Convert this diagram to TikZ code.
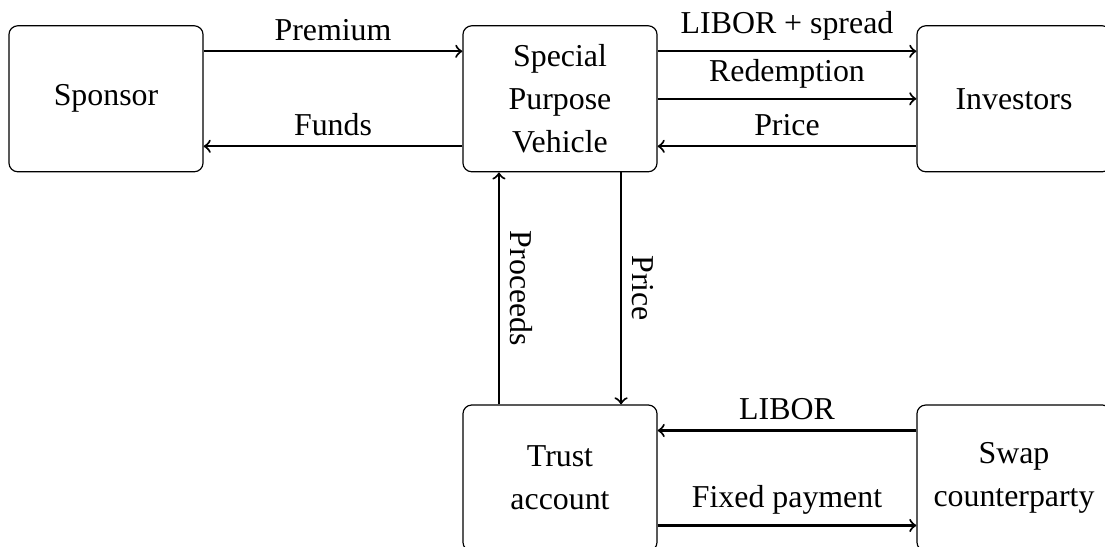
\documentclass[tikz,border=0pt]{standalone}
\IfFileExists{pplr8t.tfm}{\usepackage[T1]{fontenc}\renewcommand\rmdefault{ppl}\newcommand\fsz{10}}{\usepackage{fontspec}\setmainfont{Liberation Serif}\newcommand\fsz{10.8}}
\begin{document}
\begin{tikzpicture}[x=0.339pt,y=-0.339pt,
  box/.style={draw, line width=0.4pt, rounded corners=3pt, minimum width=65.8pt,
    minimum height=49.5pt, align=center, inner sep=0pt,
    font=\fontsize{\fsz}{14.6}\selectfont},
  flow/.style={->, line width=0.7pt},
  lbl/.style={font=\fontsize{\fsz}{12}\selectfont}]
\clip (0,0) rectangle (1105,547);
\node[box] (sponsor)   at (106,98.8) {Sponsor};
\node[box] (spv)       at (560,98.8) {Special\\Purpose\\Vehicle};
\node[box] (investors) at (1014,98.8) {Investors};
\node[box] (trust)     at (560,478) {Trust\\account};
\node[box] (swap)      at (1014,478) {Swap\\counterparty};

\draw[flow] ([yshift=16.1pt]sponsor.east) -- node[lbl,above]{Premium} ([yshift=16.1pt]spv.west);
\draw[flow] ([yshift=-16.1pt]spv.west) -- node[lbl,above]{Funds} ([yshift=-16.1pt]sponsor.east);
\draw[flow] ([yshift=16.1pt]spv.east) -- node[lbl,above]{LIBOR + spread} ([yshift=16.1pt]investors.west);
\draw[flow] (spv.east) -- node[lbl,above]{Redemption} (investors.west);
\draw[flow] ([yshift=-16.1pt]investors.west) -- node[lbl,above]{Price} ([yshift=-16.1pt]spv.east);
\draw[flow] ([xshift=-20.7pt]trust.north) -- node[lbl,rotate=-90,anchor=south]{Proceeds} ([xshift=-20.7pt]spv.south);
\draw[flow] ([xshift=20.7pt]spv.south) -- node[lbl,rotate=-90,anchor=south]{Price} ([xshift=20.7pt]trust.north);
\draw[flow] ([yshift=16.1pt]swap.west) -- node[lbl,above]{LIBOR} ([yshift=16.1pt]trust.east);
\draw[flow] ([yshift=-16.1pt]trust.east) -- node[lbl,above]{Fixed payment} ([yshift=-16.1pt]swap.west);
\end{tikzpicture}
\end{document}
